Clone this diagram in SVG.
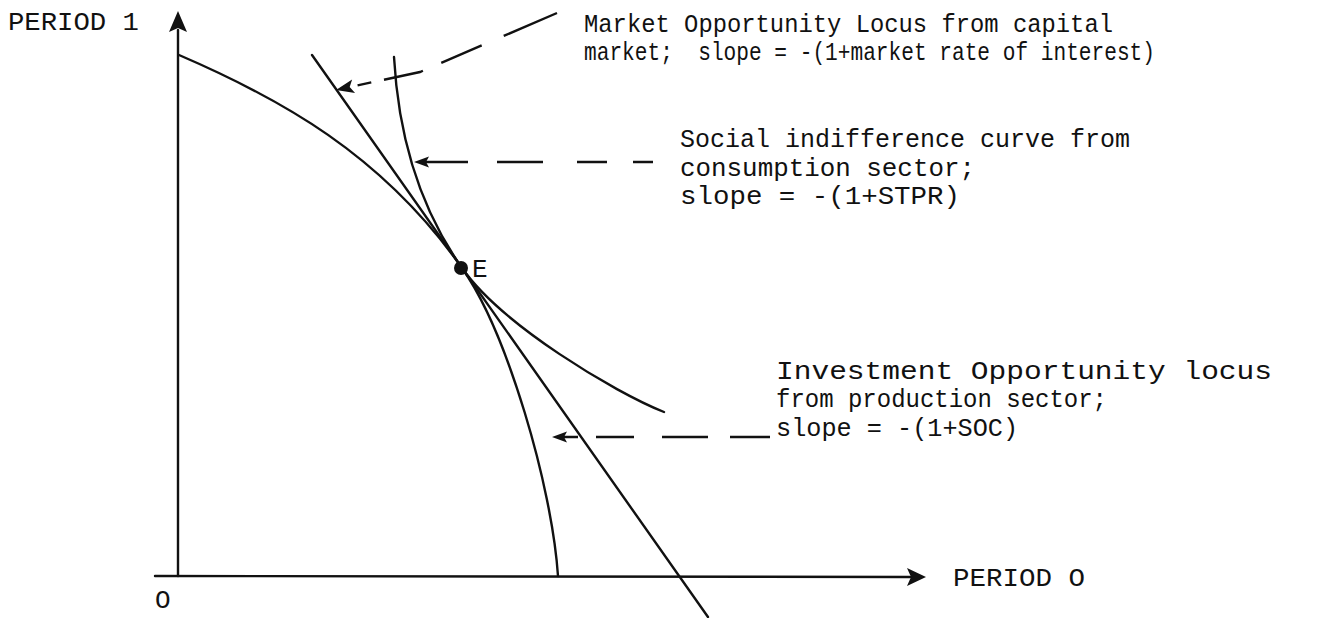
<svg xmlns="http://www.w3.org/2000/svg" width="1317" height="618" viewBox="0 0 1317 618">
<style>
.t{font-family:"Liberation Mono","DejaVu Sans Mono",monospace;font-size:26px;fill:#111;white-space:pre}
.c{fill:none;stroke:#111;stroke-width:2.4;stroke-linecap:round}
.d{fill:none;stroke:#111;stroke-width:2.4}
</style>
<defs>
<marker id="ah" viewBox="-20 -10 22 20" refX="0" refY="0" markerWidth="22" markerHeight="20" markerUnits="userSpaceOnUse" orient="auto" overflow="visible">
<path d="M0,0 L-18,-7 L-14,0 L-18,7 Z" fill="#111"/>
</marker>
<marker id="ahs" viewBox="-20 -10 22 20" refX="0" refY="0" markerWidth="22" markerHeight="20" markerUnits="userSpaceOnUse" orient="auto" overflow="visible">
<path d="M0,0 L-15,-5.5 L-12,0 L-15,5.5 Z" fill="#111"/>
</marker>
</defs>
<rect width="1317" height="618" fill="#fff"/>
<g id="axes">
<line class="c" x1="178" y1="576" x2="178" y2="30"/>
<path d="M178,11 L187,32 L178,28 L169,32 Z" fill="#111"/>
<line class="c" x1="155" y1="576" x2="910" y2="577"/>
<path d="M926,577 L907,586 L911,577 L907,568 Z" fill="#111"/>
<text class="t" x="8" y="30" textLength="131" lengthAdjust="spacingAndGlyphs">PERIOD 1</text>
<text class="t" x="953" y="586" textLength="132" lengthAdjust="spacingAndGlyphs">PERIOD O</text>
<text class="t" x="155" y="608">O</text>
</g>
<g id="investment-locus">
<path class="c" d="M179,55 C279,98 382,154 462,268 C507,332 552,486 558,576"/>
</g>
<g id="market-locus">
<line class="c" x1="312" y1="55" x2="708" y2="617"/>
</g>
<g id="indifference-curve">
<path class="c" d="M394,57 C398,130 417,204 462,268 C502,325 614,392 664,412"/>
</g>
<g id="point-E">
<circle cx="461" cy="268" r="7" fill="#111"/>
<text class="t" x="472" y="277">E</text>
</g>
<g id="connectors">
<path class="d" d="M557,13 L420,72 L336,90" stroke-dasharray="58 24 44 20 40 13 14 100" marker-end="url(#ah)"/>
<path class="d" d="M653,162 L414,162" stroke-dasharray="20 26 30 34 46 29 48 100" marker-end="url(#ahs)"/>
<path class="d" d="M770,437 L552,437" stroke-dasharray="40 22 46 28 38 18 14 100" marker-end="url(#ahs)"/>
</g>
<g id="label-market">
<text class="t" x="584" y="32" textLength="529" lengthAdjust="spacingAndGlyphs">Market Opportunity Locus from capital</text>
<text class="t" x="584" y="60" textLength="571" lengthAdjust="spacingAndGlyphs">market;  slope = -(1+market rate of interest)</text>
</g>
<g id="label-social">
<text class="t" x="680" y="147" textLength="450" lengthAdjust="spacingAndGlyphs">Social indifference curve from</text>
<text class="t" x="680" y="176" textLength="295" lengthAdjust="spacingAndGlyphs">consumption sector;</text>
<text class="t" x="680" y="204" textLength="280" lengthAdjust="spacingAndGlyphs">slope = -(1+STPR)</text>
</g>
<g id="label-investment">
<text class="t" x="776" y="379" textLength="496" lengthAdjust="spacingAndGlyphs">Investment Opportunity locus</text>
<text class="t" x="776" y="407" textLength="331" lengthAdjust="spacingAndGlyphs">from production sector;</text>
<text class="t" x="776" y="436" textLength="242" lengthAdjust="spacingAndGlyphs">slope = -(1+SOC)</text>
</g>
</svg>
